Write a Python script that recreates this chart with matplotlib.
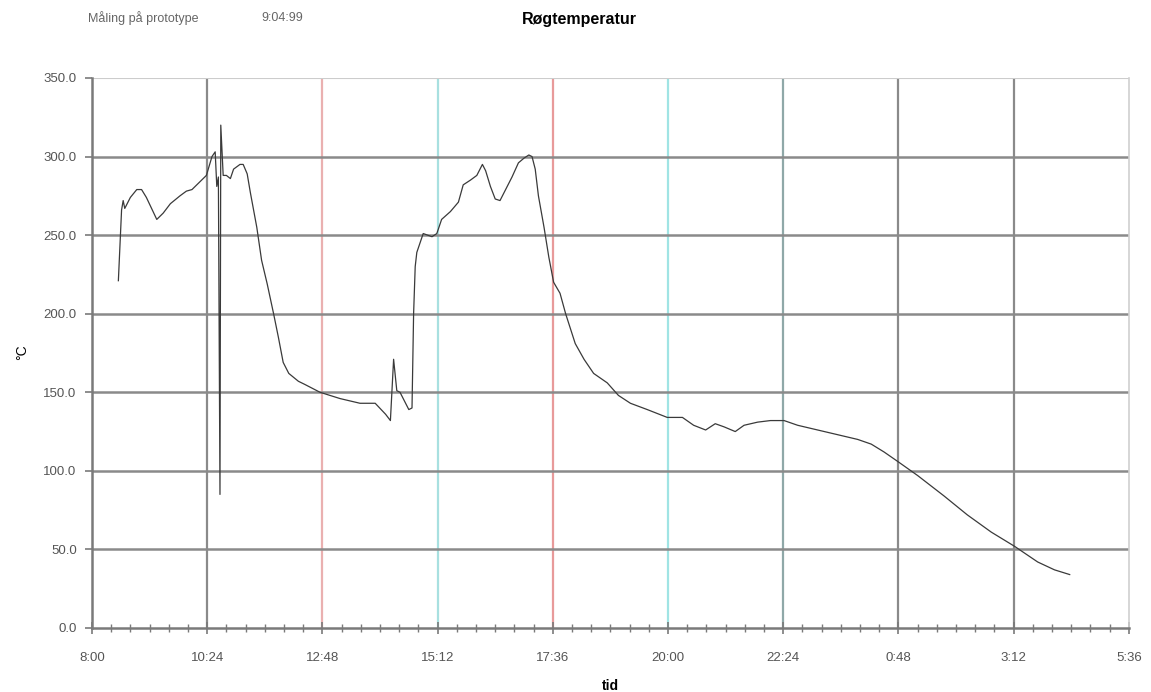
import matplotlib
matplotlib.use('Agg')
import matplotlib.pyplot as plt
from matplotlib.ticker import FixedLocator, FuncFormatter, MultipleLocator
import numpy as np

plt.rcParams['font.family'] = ['Liberation Sans', 'DejaVu Sans']

# clock readings (the run passes midnight) and flue gas temperature
times = ["8:33", "8:37", "8:39", "8:41", "8:48", "8:56", "9:02", "9:08", "9:21",
         "9:29", "9:38", "9:50", "9:58", "10:05", "10:15", "10:23", "10:30", "10:34",
         "10:36", "10:38", "10:40", "10:41", "10:44", "10:48", "10:53", "10:57",
         "11:05", "11:09", "11:14", "11:18", "11:26", "11:32", "11:39", "11:47",
         "11:53", "11:59", "12:06", "12:18", "12:26", "12:45", "13:10", "13:35",
         "13:54", "14:07", "14:13", "14:17", "14:21", "14:25", "14:36", "14:40",
         "14:42", "14:44", "14:46", "14:54", "15:05", "15:11", "15:17", "15:28",
         "15:38", "15:44", "15:53", "16:01", "16:08", "16:12", "16:18", "16:24",
         "16:30", "16:37", "16:45", "16:53", "17:00", "17:06", "17:10", "17:14",
         "17:18", "17:25", "17:31", "17:37", "17:45", "17:52", "18:04", "18:15",
         "18:27", "18:44", "18:58", "19:13", "19:34", "19:59", "20:18", "20:32",
         "20:47", "20:59", "21:10", "21:24", "21:35", "21:52", "22:08", "22:25",
         "22:42", "23:07", "23:32", "23:57", "0:14", "0:30", "0:47", "1:12",
         "1:45", "2:14", "2:44", "3:13", "3:42", "4:03", "4:22"]
temps = [221, 266, 272, 267, 274, 279, 279, 274, 260,
         264, 270, 275, 278, 279, 284, 288, 300, 303,
         281, 287, 85, 320, 288, 288, 286, 292,
         295, 295, 289, 277, 255, 234, 219, 200,
         185, 169, 162, 157, 155, 150, 146, 143,
         143, 136, 132, 171, 151, 150, 139, 140,
         200, 230, 239, 251, 249, 251, 260, 265,
         271, 282, 285, 288, 295, 291, 281, 273,
         272, 279, 287, 296, 299, 301, 300, 292,
         275, 255, 236, 220, 213, 200, 181, 171,
         162, 156, 148, 143, 139, 134, 134, 129,
         126, 130, 128, 125, 129, 131, 132, 132,
         129, 126, 123, 120, 117, 112, 106, 97,
         84, 72, 61, 52, 42, 37, 34]

tick_labels = ["8:00", "10:24", "12:48", "15:12", "17:36", "20:00",
               "22:24", "0:48", "3:12", "5:36"]


def to_hours(s):
    h, m = s.split(':')
    h = int(h) + int(m) / 60
    if h < 8:
        h += 24
    return h


t = np.array([to_hours(s) for s in times])
temp = np.array(temps)
xticks = [to_hours(s) for s in tick_labels]

fig = plt.figure(figsize=(11.51, 6.92), dpi=100)
ax = fig.add_axes([0.0799, 0.0925, 0.9009, 0.7948])

# vertical grid (with the colour fringes seen in the scan)
vcols = ['#8a8a8a', '#eab0b0', '#a8e0e0', '#e89a9a', '#a0e4e4', '#8fa8a8', '#8a8a8a', '#8a8a8a']
for x, c in zip(xticks[1:-1], vcols):
    ax.axvline(x, color=c, lw=1.6, zorder=1)
for y in range(50, 350, 50):
    ax.axhline(y, color='#8a8a8a', lw=1.8, zorder=1)
ax.axhline(350, color='#cccccc', lw=1.5, zorder=1)

ax.plot(t, temp, color='#3a3a3a', lw=0.9, zorder=3)

ax.set_xlim(xticks[0], xticks[-1])
ax.set_ylim(0, 350)
ax.xaxis.set_major_locator(FixedLocator(xticks))
ax.xaxis.set_minor_locator(FixedLocator(np.linspace(xticks[0], xticks[-1], 55)))
ax.yaxis.set_major_locator(MultipleLocator(50))
ax.set_xticklabels(tick_labels)
ax.yaxis.set_major_formatter(FuncFormatter(lambda v, p: f"{v:.1f}"))

ax.spines['top'].set_visible(False)
ax.spines['right'].set_color('#d0d0d0')
ax.spines['right'].set_linewidth(1.2)
for s in ['left', 'bottom']:
    ax.spines[s].set_color('#7a7a7a')
    ax.spines[s].set_linewidth(1.8)

ax.tick_params(axis='x', which='both', direction='inout', colors='#7a7a7a',
               labelcolor='#555555', labelsize=9.5, pad=13)
ax.tick_params(axis='x', which='major', length=8, width=1.2)
ax.tick_params(axis='x', which='minor', length=6, width=1)
ax.tick_params(axis='y', direction='out', length=5, width=1.2, colors='#7a7a7a',
               labelcolor='#555555', labelsize=9.5, pad=6)

ax.set_xlabel('tid', fontsize=10, fontweight='bold', labelpad=11)
fig.text(0.019, 0.491, '°C', rotation=90, ha='center', va='center', fontsize=10)

fig.text(0.5035, 0.972, 'Røgtemperatur', ha='center', va='center',
         fontsize=11.5, fontweight='bold')
fig.text(0.0765, 0.974, 'Måling på prototype', ha='left', va='center',
         fontsize=9, color='#666666')
fig.text(0.2275, 0.974, '9:04:99', ha='left', va='center',
         fontsize=9, color='#666666')

fig.savefig('out.png', dpi=100)
